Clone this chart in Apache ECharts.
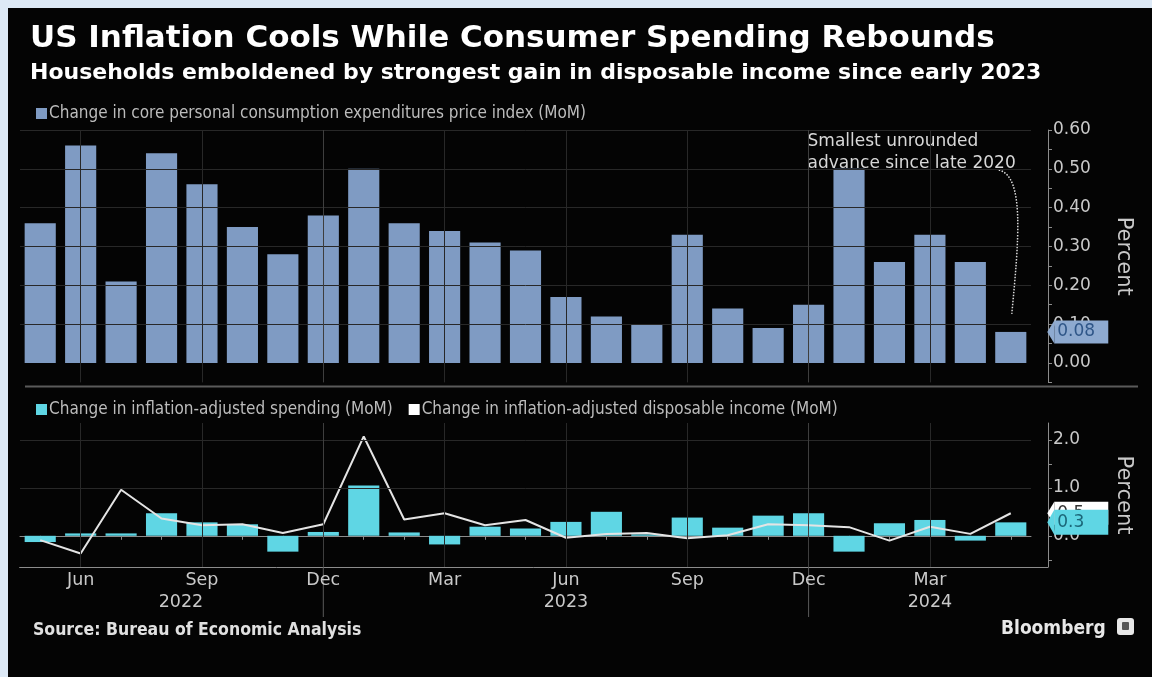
<!DOCTYPE html>
<html>
<head>
<meta charset="utf-8">
<script src="https://cdn.jsdelivr.net/npm/echarts@6/dist/echarts.min.js"></script>
<style>
html,body{margin:0;padding:0;background:#dde9f6;width:1152px;height:677px;overflow:hidden;}
#panel{position:absolute;left:8px;top:8px;right:0;bottom:0;background:#040404;}
#c{position:absolute;left:0;top:0;width:1152px;height:677px;}
</style>
</head>
<body>
<div id="panel"></div>
<div id="c"></div>
<script>
// ---------------- data ----------------
const months = ['May 2022','Jun 2022','Jul 2022','Aug 2022','Sep 2022','Oct 2022','Nov 2022','Dec 2022',
  'Jan 2023','Feb 2023','Mar 2023','Apr 2023','May 2023','Jun 2023','Jul 2023','Aug 2023','Sep 2023','Oct 2023','Nov 2023','Dec 2023',
  'Jan 2024','Feb 2024','Mar 2024','Apr 2024','May 2024'];
const corePce = [0.36,0.56,0.21,0.54,0.46,0.35,0.28,0.38,0.50,0.36,0.34,0.31,0.29,0.17,0.12,0.10,0.33,0.14,0.09,0.15,0.50,0.26,0.33,0.26,0.08];
const spending = [-0.13,0.05,0.05,0.47,0.28,0.24,-0.33,0.08,1.05,0.07,-0.18,0.19,0.15,0.29,0.50,0.03,0.38,0.17,0.42,0.47,-0.33,0.26,0.33,-0.10,0.28];
const income = [-0.09,-0.37,0.96,0.36,0.22,0.24,0.06,0.24,2.07,0.34,0.47,0.22,0.33,-0.04,0.04,0.06,-0.05,0.01,0.24,0.22,0.18,-0.10,0.19,0.04,0.47];
const topTickLabels = [0,0.1,0.2,0.3,0.4,0.5,0.6];
const topMinorTicks = [-0.05,0.05,0.15,0.25,0.35,0.45,0.55];
const bottomTickLabels = [0,1,2];
const bottomMinorTicks = [-0.5,0.5,1.5];
const shownMonths = ['Jun','Sep','Dec','Mar'];
const yearLabels = {'Sep 2022':'2022','Jun 2023':'2023','Mar 2024':'2024'};
const nameCore = 'Change in core personal consumption expenditures price index (MoM)';
const nameSpend = 'Change in inflation-adjusted spending (MoM)';
const nameIncome = 'Change in inflation-adjusted disposable income (MoM)';
const titleText = 'US Inflation Cools While Consumer Spending Rebounds';
const subtitleText = 'Households emboldened by strongest gain in disposable income since early 2023';
const noteText = 'Smallest unrounded\nadvance since late 2020';
const sourceText = 'Source: Bureau of Economic Analysis';

// ---------------- styles ----------------
const cond = "'DejaVu Sans Condensed','Liberation Sans Narrow','DejaVu Sans',sans-serif";
const wide = "'DejaVu Sans','Liberation Sans',sans-serif";
const barBlue = '#7f9bc3';
const cyan = '#5fd6e4';
const lineWhite = '#e4e4e4';
const gridCol = '#282828';
const decCol = '#3e3e3e';
const axisCol = '#8c8c8c';
const labelCol = '#c9c9c9';

const vLines = months.filter(m => shownMonths.indexOf(m.slice(0,3)) >= 0)
  .map(m => ({xAxis: m, lineStyle: {color: m.startsWith('Dec') ? decCol : gridCol}}));

function gridMark(hVals) {
  return {
    silent: true, symbol: 'none', animation: false,
    label: {show: false},
    lineStyle: {color: gridCol, width: 1, type: 'solid'},
    data: hVals.map(v => ({yAxis: v})).concat(vLines)
  };
}

const chart = echarts.init(document.getElementById('c'), null, {renderer: 'canvas'});
const axisFont = {color: labelCol, fontFamily: wide, fontSize: 17};
const option = {
  backgroundColor: 'transparent',
  animation: false,
  title: [
    {text: titleText, left: 25, top: 18, textStyle: {color: '#ffffff', fontFamily: wide, fontWeight: 'bold', fontSize: 31}},
    {text: subtitleText, left: 25, top: 57, textStyle: {color: '#ffffff', fontFamily: wide, fontWeight: 'bold', fontSize: 22}},
    {text: sourceText, left: 28, top: 616, textStyle: {color: '#e0e0e0', fontFamily: cond, fontWeight: 'bold', fontSize: 17.5}},
    {text: 'Bloomberg', left: 996, top: 615, textStyle: {color: '#e8e8e8', fontFamily: cond, fontWeight: 'bold', fontSize: 19}}
  ],
  legend: [
    {data: [nameCore], left: 31, top: 100, icon: 'rect', itemWidth: 11, itemHeight: 11, itemGap: 10,
     textStyle: {color: '#bcbcbc', fontFamily: cond, fontSize: 17, padding: [0,0,0,-3]}, selectedMode: false},
    {data: [nameSpend, nameIncome], left: 31, top: 396, icon: 'rect', itemWidth: 11, itemHeight: 11, itemGap: 16,
     textStyle: {color: '#bcbcbc', fontFamily: cond, fontSize: 17, padding: [0,0,0,-3]}, selectedMode: false}
  ],
  grid: [
    {left: 20, right: 121, top: 130, height: 252.4},
    {left: 20, right: 121, top: 423, height: 144}
  ],
  xAxis: [
    {type: 'category', gridIndex: 0, data: months, axisLine: {show: false}, axisTick: {show: false}, axisLabel: {show: false}, splitLine: {show: false}},
    {type: 'category', gridIndex: 1, data: months,
     axisLine: {show: true, lineStyle: {color: axisCol, width: 1}},
     axisTick: {show: true, alignWithLabel: true, length: 4, lineStyle: {color: axisCol}},
     axisLabel: {
       interval: 0, color: labelCol, fontFamily: wide, fontSize: 17.5, margin: 2, lineHeight: 22,
       formatter: function (v) {
         const m = v.slice(0,3);
         if (shownMonths.indexOf(m) < 0) return '';
         const y = yearLabels[v];
         if (!y) return m;
         return m + '\n' + (v === 'Sep 2022' ? '{y1|' + y + '}' : y);
       },
       rich: {y1: {color: labelCol, fontFamily: wide, fontSize: 17.5, padding: [0, 42, 0, 0], lineHeight: 22}}
     },
     splitLine: {show: false}}
  ],
  yAxis: [
    {type: 'value', gridIndex: 0, position: 'right', offset: 17, min: -0.05, max: 0.6,
     axisLine: {show: true, lineStyle: {color: axisCol, width: 1}},
     axisTick: {show: true, customValues: topTickLabels.concat(topMinorTicks), length: 4, lineStyle: {color: axisCol}},
     axisLabel: Object.assign({customValues: topTickLabels, formatter: v => v.toFixed(2), margin: 5}, axisFont),
     splitLine: {show: false},
     name: 'Percent', nameLocation: 'middle', nameRotate: -90, nameGap: 65,
     nameTextStyle: {color: labelCol, fontFamily: wide, fontSize: 21}},
    {type: 'value', gridIndex: 1, position: 'right', offset: 17, min: -0.65, max: 2.35,
     axisLine: {show: true, lineStyle: {color: axisCol, width: 1}},
     axisTick: {show: true, customValues: bottomTickLabels.concat(bottomMinorTicks), length: 4, lineStyle: {color: axisCol}},
     axisLabel: Object.assign({customValues: bottomTickLabels, formatter: v => v.toFixed(1), margin: 5}, axisFont),
     splitLine: {show: false},
     name: 'Percent', nameLocation: 'middle', nameRotate: -90, nameGap: 65,
     nameTextStyle: {color: labelCol, fontFamily: wide, fontSize: 21}}
  ],
  series: [
    {name: nameCore, type: 'bar', xAxisIndex: 0, yAxisIndex: 0, data: corePce, barWidth: '77%',
     itemStyle: {color: barBlue},
     markLine: gridMark([0.1,0.2,0.3,0.4,0.5,0.6]),
     markPoint: {
       z: 6, symbol: 'path://M10,0 L0,5 L10,10 Z', symbolSize: [7, 23], symbolOffset: [40, 0],
       itemStyle: {color: '#8eaad0'},
       label: {show: true, position: 'right', distance: 0, formatter: p => p.value.toFixed(2),
               backgroundColor: '#8eaad0', color: '#2f5688', fontFamily: wide, fontSize: 17,
               width: 47, height: 19, lineHeight: 19, padding: [2, 4, 2, 3]},
       data: [{coord: [months[months.length-1], corePce[corePce.length-1]], value: corePce[corePce.length-1]}]
     }},
    {name: nameSpend, type: 'bar', xAxisIndex: 1, yAxisIndex: 1, data: spending, barWidth: '77%',
     itemStyle: {color: cyan},
     markLine: gridMark([1, 2]),
     markPoint: {
       z: 8, symbol: 'path://M10,0 L0,5 L10,10 Z', symbolSize: [7, 25], symbolOffset: [40, 0],
       itemStyle: {color: cyan},
       label: {show: true, position: 'right', distance: 0, formatter: p => p.value.toFixed(1),
               backgroundColor: cyan, color: '#1b6678', fontFamily: wide, fontSize: 17,
               width: 47, height: 21, lineHeight: 21, padding: [2, 4, 2, 3]},
       data: [{coord: [months[months.length-1], spending[spending.length-1]], value: spending[spending.length-1]}]
     }},
    {name: nameIncome, type: 'line', xAxisIndex: 1, yAxisIndex: 1, data: income, z: 4,
     symbol: 'none', lineStyle: {color: lineWhite, width: 2}, itemStyle: {color: '#ffffff'},
     markPoint: {
       z: 7, symbol: 'path://M10,0 L0,5 L10,10 Z', symbolSize: [7, 23], symbolOffset: [40, 0],
       itemStyle: {color: '#ffffff'},
       label: {show: true, position: 'right', distance: 0, formatter: p => p.value.toFixed(1),
               backgroundColor: '#ffffff', color: '#333333', fontFamily: wide, fontSize: 17,
               width: 47, height: 19, lineHeight: 19, padding: [2, 4, 2, 3]},
       data: [{coord: [months[months.length-1], income[income.length-1]], value: income[income.length-1]}]
     }}
  ]
};
chart.setOption(option);

// ---------------- decorations anchored to the scales ----------------
const last = months[months.length-1];
const pTopMax = chart.convertToPixel({xAxisIndex: 0, yAxisIndex: 0}, ['Dec 2023', 0.6]);
const pLast = chart.convertToPixel({xAxisIndex: 0, yAxisIndex: 0}, [last, corePce[corePce.length-1]]);
const pTopMin = chart.convertToPixel({xAxisIndex: 0, yAxisIndex: 0}, [months[0], -0.05]);
const pBotMin = chart.convertToPixel({xAxisIndex: 1, yAxisIndex: 1}, [months[0], -0.65]);
const yAxisX = pLast[0] + 37.5;
const graphics = [];
// annotation
graphics.push({type: 'text', left: pTopMax[0] - 1, top: pTopMax[1] + 1, silent: true,
  style: {text: noteText, fill: '#d8d8d8', font: '17px ' + wide, lineHeight: 22}});
graphics.push({type: 'bezierCurve', silent: true,
  shape: {x1: pLast[0] - 12, y1: pTopMax[1] + 40, cpx1: pLast[0] + 14, cpy1: pTopMax[1] + 46,
          cpx2: pLast[0] + 8, cpy2: pTopMax[1] + 110, x2: pLast[0] + 1, y2: pLast[1] - 18},
  style: {stroke: '#dcdcdc', lineWidth: 1.5, lineDash: [1.5, 1.5], fill: null}});
// panel separator
graphics.push({type: 'line', silent: true, shape: {x1: 25, y1: pTopMin[1] + 4, x2: 1138, y2: pTopMin[1] + 4},
  style: {stroke: '#5a5a5a', lineWidth: 2}});
// extend bottom axis line to the y axis
graphics.push({type: 'line', silent: true, shape: {x1: pBotMin[0] - 21, y1: pBotMin[1] + 0.5, x2: yAxisX, y2: pBotMin[1] + 0.5},
  style: {stroke: axisCol, lineWidth: 1}});
// year separators
months.forEach(m => {
  if (m.startsWith('Dec')) {
    const p = chart.convertToPixel({xAxisIndex: 1, yAxisIndex: 1}, [m, -0.65]);
    graphics.push({type: 'line', silent: true, shape: {x1: p[0], y1: p[1], x2: p[0], y2: p[1] + 50},
      style: {stroke: '#5a5a5a', lineWidth: 1}});
  }
});
// bloomberg icon
graphics.push({type: 'rect', silent: true, shape: {x: 1117, y: 618, width: 17, height: 17, r: 3}, style: {fill: '#e8e8e8'}});
graphics.push({type: 'rect', silent: true, shape: {x: 1122, y: 622, width: 7, height: 8, r: 1}, style: {fill: '#555'}});
chart.setOption({graphic: graphics});
</script>
</body>
</html>
